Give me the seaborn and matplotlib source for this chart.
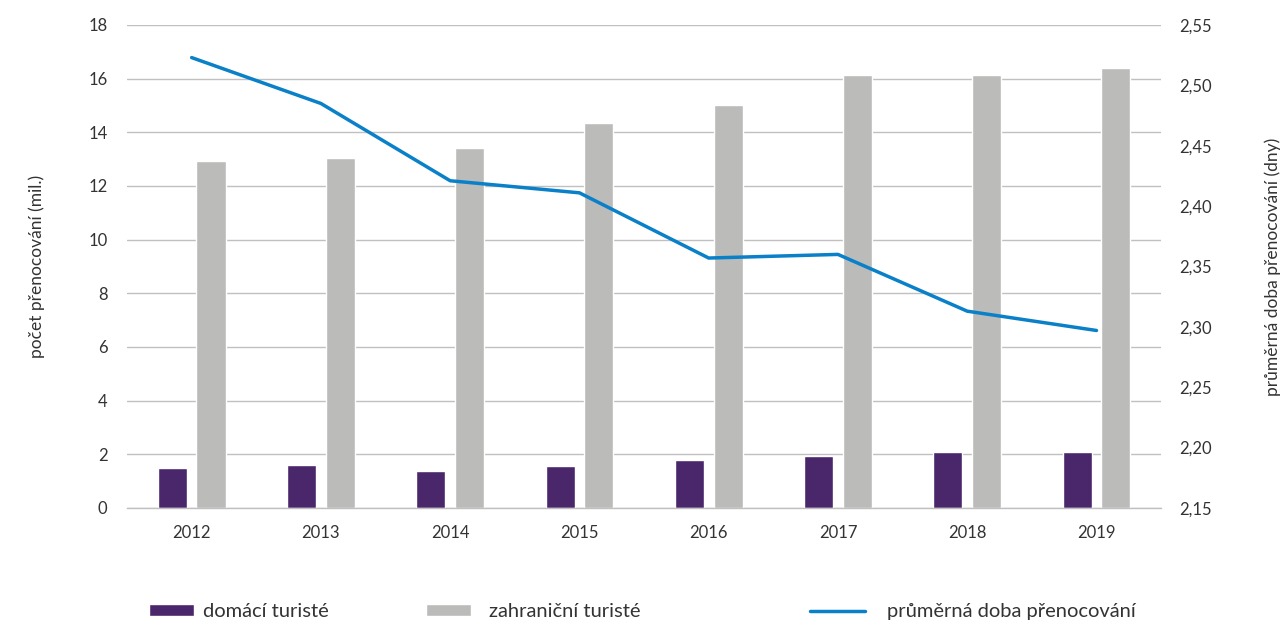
import numpy as np
import pandas as pd
import matplotlib
matplotlib.use("Agg")
import matplotlib.pyplot as plt
import seaborn as sns
from matplotlib.patches import Patch
from matplotlib.lines import Line2D

years = ["2012", "2013", "2014", "2015", "2016", "2017", "2018", "2019"]
domestic = [1.50, 1.60, 1.37, 1.58, 1.78, 1.92, 2.10, 2.10]
foreign = [12.93, 13.05, 13.40, 14.35, 15.02, 16.15, 16.15, 16.40]
avg_stay = [2.523, 2.485, 2.421, 2.411, 2.357, 2.360, 2.313, 2.297]

lbl_dom = "domácí turisté"
lbl_for = "zahraniční turisté"
lbl_avg = "průměrná doba přenocování"

c_dom = "#4A266A"
c_for = "#BBBBBA"
c_avg = "#0A80C8"
c_grid = "#C0C0C0"
c_text = "#333333"

sns.set_theme(style="white")
plt.rcParams["font.family"] = ["Lato", "DejaVu Sans"]

df = pd.DataFrame({
    "rok": years * 2,
    "hodnota": domestic + foreign,
    "typ": [lbl_dom] * len(years) + [lbl_for] * len(years),
})

fig = plt.figure(figsize=(12.83, 6.23), dpi=100)
ax = fig.add_axes([0.099, 0.1846, 0.806, 0.7753])

sns.barplot(data=df, x="rok", y="hodnota", hue="typ", order=years,
            hue_order=[lbl_dom, lbl_for], palette=[c_dom, c_for],
            width=0.6, gap=0.25, saturation=1, legend=False, ax=ax)

ax.set_ylim(0, 18)
ax.set_yticks(np.arange(0, 19, 2))
ax.set_xlim(-0.5, len(years) - 0.5)
ax.yaxis.grid(True, color=c_grid, linewidth=1)
ax.set_axisbelow(True)
for s in ["top", "left", "right"]:
    ax.spines[s].set_visible(False)
ax.spines["bottom"].set_color(c_grid)
ax.spines["bottom"].set_linewidth(1)
ax.tick_params(axis="both", length=0, labelsize=12, colors=c_text)
ax.tick_params(axis="x", pad=12)
ax.tick_params(axis="y", pad=14)
ax.set_xlabel("")
ax.set_ylabel("počet přenocování (mil.)", fontsize=12.5, color=c_text, labelpad=31)

ax2 = ax.twinx()
sns.lineplot(x=np.arange(len(years)), y=avg_stay, color=c_avg, linewidth=2.5, ax=ax2)
ax2.set_ylim(2.15, 2.55)
ax2.set_yticks(np.round(np.arange(2.15, 2.551, 0.05), 2))
ax2.set_yticklabels([f"{v:.2f}".replace(".", ",") for v in np.arange(2.15, 2.551, 0.05)])
for s in ["top", "left", "right", "bottom"]:
    ax2.spines[s].set_visible(False)
ax2.tick_params(axis="y", length=0, labelsize=12, colors=c_text, pad=13)
ax2.set_ylabel("průměrná doba přenocování (dny)", fontsize=12.5, color=c_text, labelpad=38)
ax2.grid(False)
ax2.set_xlim(-0.5, len(years) - 0.5)

leg_kw = dict(frameon=False, fontsize=14.5, labelcolor=c_text, loc="center left",
              handlelength=2.25, handleheight=0.55, handletextpad=0.45)
fig.legend(handles=[Patch(facecolor=c_dom, label=lbl_dom)],
           bbox_to_anchor=(0.102, 0.018, 0, 0.0), **leg_kw)
fig.legend(handles=[Patch(facecolor=c_for, label=lbl_for)],
           bbox_to_anchor=(0.318, 0.018, 0, 0.0),
           **{**leg_kw, "handletextpad": 0.85})
fig.legend(handles=[Line2D([], [], color=c_avg, linewidth=2.5, label=lbl_avg)],
           bbox_to_anchor=(0.6175, 0.018, 0, 0.0),
           **{**leg_kw, "handlelength": 2.7, "handletextpad": 1.1})

fig.savefig("out.png", dpi=100)
